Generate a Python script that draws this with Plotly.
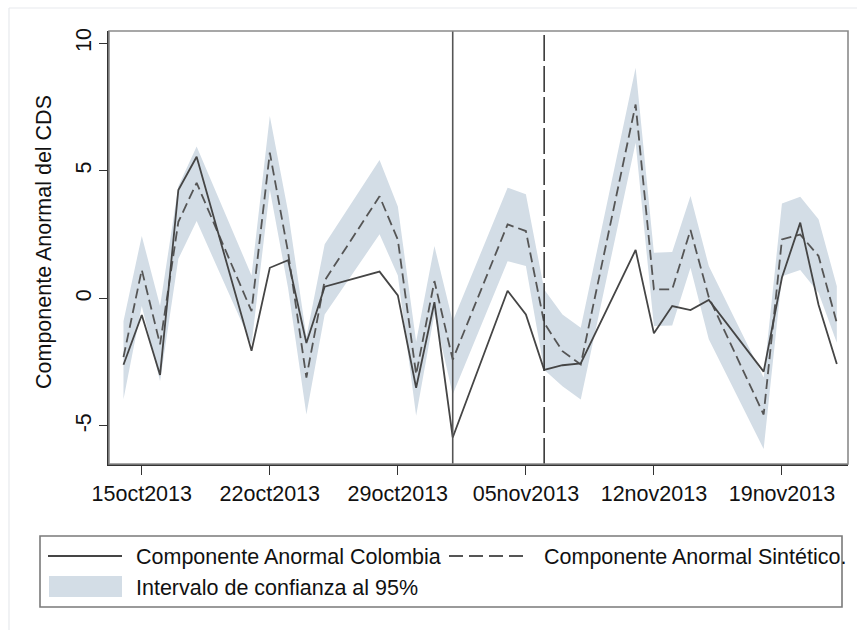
import plotly.graph_objects as go

# Trading days of the event window
dates = [
    "2013-10-14", "2013-10-15", "2013-10-16", "2013-10-17", "2013-10-18",
    "2013-10-21", "2013-10-22", "2013-10-23", "2013-10-24", "2013-10-25",
    "2013-10-28", "2013-10-29", "2013-10-30", "2013-10-31", "2013-11-01",
    "2013-11-04", "2013-11-05", "2013-11-06", "2013-11-07", "2013-11-08",
    "2013-11-11", "2013-11-12", "2013-11-13", "2013-11-14", "2013-11-15",
    "2013-11-18", "2013-11-19", "2013-11-20", "2013-11-21", "2013-11-22",
]

# Abnormal CDS component, Colombia
colombia = [
    -2.60, -0.65, -3.00, 4.25, 5.55,
    -2.05, 1.20, 1.50, -1.75, 0.46,
    1.05, 0.12, -3.50, -0.15, -5.45,
    0.30, -0.63, -2.80, -2.62, -2.55,
    1.90, -1.37, -0.30, -0.46, -0.06,
    -2.87, 0.82, 2.97, -0.25, -2.57,
]

# Abnormal CDS component, synthetic control
sintetico = [
    -2.30, 1.12, -1.80, 3.00, 4.53,
    -0.50, 5.71, 1.80, -3.10, 0.70,
    4.00, 2.30, -2.98, 0.68, -2.40,
    2.90, 2.64, -0.96, -2.07, -2.59,
    7.60, 0.35, 0.35, 2.68, 0.05,
    -4.55, 2.31, 2.50, 1.66, -0.96,
]

# 95% confidence band
ic_sup = [
    -0.90, 2.45, -0.30, 4.40, 5.95,
    0.90, 7.15, 3.40, -1.50, 2.12,
    5.42, 3.60, -1.70, 2.05, -0.90,
    4.34, 4.08, 0.35, -0.63, -1.15,
    9.04, 1.79, 1.82, 4.01, 1.27,
    -3.10, 3.72, 3.98, 3.10, 0.48,
]
ic_inf = [
    -3.95, -0.30, -3.25, 1.55, 3.03,
    -1.80, 4.27, 0.40, -4.55, -0.63,
    2.51, 0.90, -4.60, -0.60, -3.77,
    1.46, 1.27, -2.80, -3.44, -3.96,
    6.10, -1.08, -1.06, 1.20, -1.60,
    -5.90, 0.87, 1.11, 0.22, -1.74,
]

# Event markers
evento = "2013-11-01"
evento_2 = "2013-11-06"

# Axis ticks
x_ticks = ["2013-10-15", "2013-10-22", "2013-10-29", "2013-11-05", "2013-11-12", "2013-11-19"]
x_ticktext = ["15oct2013", "22oct2013", "29oct2013", "05nov2013", "12nov2013", "19nov2013"]
y_ticks = [-5, 0, 5, 10]

band_color = "rgb(211,221,230)"
line_color = "#454545"
font_family = "Liberation Sans, Arial, sans-serif"
fs = 21.5

W, H = 857, 630
L, R, T, B = 109, 848, 31, 464


def px(x):
    return (x - L) / (R - L)


def py(y):
    return (B - y) / (B - T)


fig = go.Figure()

fig.add_trace(go.Scatter(x=dates, y=ic_inf, mode="lines", line=dict(width=0, color=band_color),
                         hoverinfo="skip", showlegend=False))
fig.add_trace(go.Scatter(x=dates, y=ic_sup, mode="lines", line=dict(width=0, color=band_color),
                         fill="tonexty", fillcolor=band_color, showlegend=False,
                         name="Intervalo de confianza al 95%"))
fig.add_trace(go.Scatter(x=dates, y=sintetico, mode="lines",
                         line=dict(color="#555555", width=1.8, dash="10px,5px"),
                         name="Componente Anormal Sintético.", showlegend=False))
fig.add_trace(go.Scatter(x=dates, y=colombia, mode="lines",
                         line=dict(color=line_color, width=1.8),
                         name="Componente Anormal Colombia", showlegend=False))

shapes = [
    # event lines
    dict(type="line", xref="x", yref="paper", x0=evento, x1=evento, y0=0, y1=1,
         line=dict(color="#555555", width=1.6)),
    dict(type="line", xref="x", yref="paper", x0=evento_2, x1=evento_2, y0=0, y1=1,
         line=dict(color="#3a3a3a", width=1.6, dash="26px,5px")),
    # plot region frame
    dict(type="rect", xref="paper", yref="paper", x0=0, x1=1, y0=0, y1=1,
         line=dict(color="#8a8a8a", width=1.6)),
    # faint outer frame
    dict(type="line", xref="paper", yref="paper", x0=px(9), x1=px(9), y0=py(8), y1=py(640),
         line=dict(color="#e7eaed", width=1.2)),
    dict(type="line", xref="paper", yref="paper", x0=px(9), x1=px(870), y0=py(8), y1=py(8),
         line=dict(color="#e7eaed", width=1.2)),
    # legend box
    dict(type="rect", xref="paper", yref="paper", x0=px(40), x1=px(842), y0=py(607), y1=py(536),
         line=dict(color="#7a7a7a", width=1.6)),
    # legend keys
    dict(type="line", xref="paper", yref="paper", x0=px(48), x1=px(122), y0=py(556), y1=py(556),
         line=dict(color=line_color, width=1.8)),
    dict(type="line", xref="paper", yref="paper", x0=px(449), x1=px(525), y0=py(556), y1=py(556),
         line=dict(color="#555555", width=1.8, dash="14px,6px")),
    dict(type="rect", xref="paper", yref="paper", x0=px(49), x1=px(122), y0=py(597), y1=py(576),
         fillcolor=band_color, line=dict(width=0)),
]

annotations = [
    dict(text="Componente Anormal del CDS", xref="paper", yref="paper",
         x=px(44), y=py(242), textangle=-90, showarrow=False,
         font=dict(family=font_family, size=fs, color="#111111"),
         xanchor="center", yanchor="middle"),
    dict(text="Componente Anormal Colombia", xref="paper", yref="paper",
         x=px(134), y=py(557), showarrow=False, xanchor="left", yanchor="middle",
         font=dict(family=font_family, size=fs, color="#111111")),
    dict(text="Componente Anormal Sintético.", xref="paper", yref="paper",
         x=px(542), y=py(557), showarrow=False, xanchor="left", yanchor="middle",
         font=dict(family=font_family, size=fs, color="#111111")),
    dict(text="Intervalo de confianza al 95%", xref="paper", yref="paper",
         x=px(134), y=py(588), showarrow=False, xanchor="left", yanchor="middle",
         font=dict(family=font_family, size=fs, color="#111111")),
]

fig.update_layout(
    width=W, height=H,
    margin=dict(l=L, r=W - R, t=T, b=H - B, autoexpand=False),
    paper_bgcolor="white", plot_bgcolor="white",
    showlegend=False,
    shapes=shapes, annotations=annotations,
    font=dict(family=font_family, size=fs, color="#111111"),
)

fig.update_xaxes(
    type="date",
    range=["2013-10-13 05:00", "2013-11-22 14:40"],
    tickvals=x_ticks, ticktext=x_ticktext,
    ticks="outside", ticklen=9, tickwidth=1.3, tickcolor="#333333",
    showline=True, linecolor="#333333", linewidth=1.6,
    showgrid=False, zeroline=False,
    tickfont=dict(family=font_family, size=fs, color="#111111"),
)
fig.update_yaxes(
    range=[-6.49, 10.48],
    tickvals=y_ticks, ticktext=[str(v) for v in y_ticks],
    tickangle=-90,
    ticks="outside", ticklen=8, tickwidth=1.3, tickcolor="#333333",
    showline=True, linecolor="#333333", linewidth=1.6,
    showgrid=False, zeroline=False,
    tickfont=dict(family=font_family, size=fs, color="#111111"),
)

fig.write_html("out.html")
